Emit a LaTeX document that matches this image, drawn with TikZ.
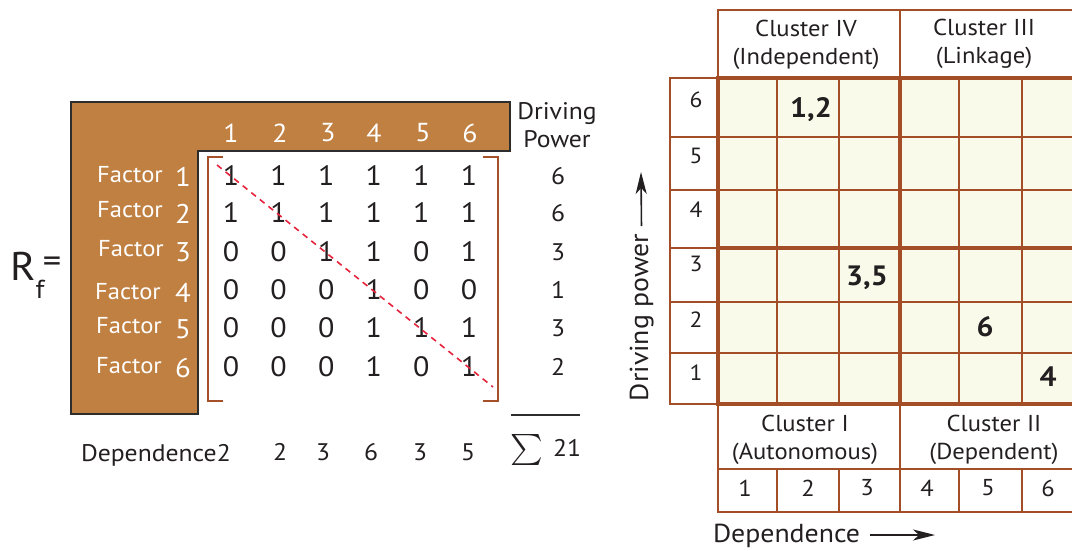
\documentclass[tikz,border=0pt]{standalone}
\usepackage{fontspec}
\setmainfont{PT Sans}[FakeStretch=1.07]
\usetikzlibrary{arrows.meta}
\definecolor{lbrown}{RGB}{192,128,66}
\definecolor{edgegray}{RGB}{45,45,45}
\definecolor{bracket}{RGB}{165,80,40}
\definecolor{grid}{RGB}{163,78,38}
\definecolor{cream}{RGB}{250,250,234}
\definecolor{diagred}{RGB}{230,35,60}
\definecolor{ink}{RGB}{35,31,32}
\newcommand{\fsz}[1]{\fontsize{#1}{#1}\selectfont}
\begin{document}
\begin{tikzpicture}[x=1pt,y=-1pt,
  every node/.style={inner sep=0pt,outer sep=0pt,text=ink},
  lshape/.style={fill=lbrown,draw=edgegray,line width=2.4pt},
  hdr/.style={text=white,font=\fsz{26}},
  fac/.style={text=white,font=\fsz{23}},
  facn/.style={text=white,font=\fsz{27}},
  ent/.style={font=\fsz{28}},
  dpv/.style={font=\fsz{24}},
  lab/.style={font=\fsz{24}},
  brk/.style={draw=bracket,line width=2pt},
  diagline/.style={draw=diagred,line width=1.6pt,dash pattern=on 6pt off 5pt},
  gthin/.style={draw=grid,line width=2pt},
  gthick/.style={draw=grid,line width=4pt},
  clus/.style={font=\fontsize{23}{28}\selectfont,align=center},
  axn/.style={font=\fsz{22}},
  botn/.style={font=\fsz{23}},
  big/.style={font=\fsz{28}\bfseries},
  axlab/.style={font=\fsz{26}},
  arr/.style={draw=ink,line width=1.6pt,-{Stealth[length=22pt,width=11pt,inset=6pt]}}
]
\useasboundingbox (0,0) rectangle (1072,551);
\clip (0,0) rectangle (1072,551);

% ---------- left: reachability matrix ----------
\node[font=\fsz{40}] (R) at (23,266) {R};
\node[font=\fsz{26}] (Rf) at (40,289) {f};
\node[font=\fsz{34}] (Req) at (52,265) {=};

\draw[lshape] (71,102) -- (510,102) -- (510,151) -- (198,151) -- (198,414) -- (71,414) -- cycle;

\foreach \c/\x in {1/231,2/280,3/328,4/374,5/423,6/470}
  \node[hdr] (h\c) at (\x,133) {\c};

\foreach \r/\fy/\dy/\fx in {1/175/177/130,2/210/214/130,3/249/252/131,4/292/293/128,5/326/329/129,6/366/368/129}{
  \node[fac] (fl\r) at (\fx,\fy) {Factor};
  \node[facn] (fn\r) at (183,\dy) {\r};
}

\foreach \r/\y/\vals in {1/176/{1,1,1,1,1,1},2/213/{1,1,1,1,1,1},3/252/{0,0,1,1,0,1},4/290/{0,0,0,1,0,0},5/328/{0,0,0,1,1,1},6/367/{0,0,0,1,0,1}}{
  \foreach \v [count=\c] in \vals {
    \node[ent] (m\r\c) at ({231+(\c-1)*47.6},\y) {\v};
  }
}

\draw[brk] (223,157) -- (208,157) -- (208,401) -- (223,401);
\draw[brk] (483,157) -- (498,157) -- (498,401) -- (483,401);

\coordinate (dgA) at (217,165);
\coordinate (dgB) at (493,387);
\draw[diagline] (dgA) -- (dgB);

\node[font=\fontsize{24}{28}\selectfont,align=center] (dp) at (557,125) {Driving\\Power};
\foreach \r/\y/\v in {1/176/6,2/213/6,3/252/3,4/290/1,5/328/3,6/367/2}
  \node[dpv] (dv\r) at (558,\y) {\v};

\coordinate (sumA) at (511,415);
\coordinate (sumB) at (580,415);
\draw[draw=edgegray,line width=1.5pt] (sumA) -- (sumB);

\node[lab,anchor=base west] (deptxt) at (81,461) {Dependence2};
\foreach \c/\x/\v in {2/280/2,3/323/3,4/371/6,5/420/3,6/468/5}
  \node[lab] (dd\c) at (\x,452) {\v};
\node (sig) at (527,450) {\scalebox{3.1}{$\sum$}};
\node[lab] (tot) at (567,448) {21};

% ---------- right: MICMAC grid ----------
\fill[cream] (718,78) rectangle (1090,404);
% left number column
\draw[gthin] (670,78) rectangle (718,404);
\foreach \y in {137,190,248,302,353} \draw[gthin] (670,\y) -- (718,\y);
% thin cell lines
\foreach \y in {137,190,302,353} \draw[gthin] (718,\y) -- (1090,\y);
\foreach \x in {777,839,959,1022} \draw[gthin] (\x,78) -- (\x,404);
% top header
\draw[gthin] (718,78) -- (718,10) -- (1090,10);
\draw[gthin] (900,10) -- (900,78);
% bottom header
\draw[gthin] (718,404) -- (718,512) -- (1090,512);
\draw[gthin] (718,469) -- (1090,469);
\draw[gthin] (900,404) -- (900,512);
\foreach \x in {777,839,959,1022} \draw[gthin] (\x,469) -- (\x,512);
% thick quadrant lines
\draw[gthick] (718,78) rectangle (1090,404);
\draw[gthick] (900,78) -- (900,404);
\draw[gthick] (718,248) -- (1090,248);

\node[clus] (c4) at (806,45) {Cluster IV\\(Independent)};
\node[clus] (c3) at (984,44) {Cluster III\\(Linkage)};
\node[clus] (c1) at (805,440) {Cluster I\\(Autonomous)};
\node[clus] (c2) at (994,440) {Cluster II\\(Dependent)};

\foreach \v/\y in {6/100,5/156,4/210,3/264,2/320,1/373}
  \node[axn] (dn\v) at (696,\y) {\v};
\foreach \v/\x in {1/745,2/808,3/867,4/927,5/988,6/1048}
  \node[botn] (bn\v) at (\x,488) {\v};

\node[big] (p12) at (811,110) {1,2};
\node[big] (p35) at (867,278) {3,5};
\node[big] (p6) at (985,327) {6};
\node[big] (p4) at (1048,377) {4};

\node[axlab,rotate=90,anchor=base west] (dpw) at (648,401) {Driving power};
\coordinate (dpwtip) at (641,172);
\draw[arr,shorten <=8pt] (dpw.east) -- (dpwtip);

\node[axlab,anchor=base west] (dep) at (713,542) {Dependence};
\coordinate (deptip) at (935,535);
\draw[arr,shorten <=10pt] (dep.east |- deptip) -- (deptip);
\end{tikzpicture}
\end{document}
